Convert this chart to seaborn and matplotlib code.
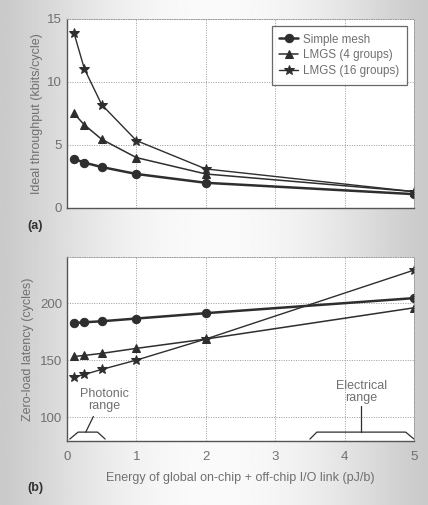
import numpy as np
import pandas as pd
import matplotlib
matplotlib.use("Agg")
import matplotlib.pyplot as plt
import seaborn as sns

# Data
energy = [0.1, 0.25, 0.5, 1, 2, 5]
thr_mesh = [3.9, 3.6, 3.25, 2.7, 2.0, 1.1]
thr_lmgs4 = [7.5, 6.6, 5.45, 4.0, 2.7, 1.3]
thr_lmgs16 = [13.9, 11.05, 8.2, 5.35, 3.1, 1.3]
lat_mesh = [182.6, 183.2, 184.1, 186.5, 191.2, 204.4]
lat_lmgs4 = [153.2, 154.1, 155.9, 160.3, 168.5, 195.9]
lat_lmgs16 = [135.0, 137.4, 141.8, 150.0, 168.5, 229.0]
series = ["Simple mesh", "LMGS (4 groups)", "LMGS (16 groups)"]

sns.set_theme(style="white")
plt.rcParams["font.family"] = ["Liberation Sans", "DejaVu Sans"]
plt.rcParams["font.size"] = 9

txt = "#707070"
ink = "#2e2e2e"

fig = plt.figure(figsize=(4.28, 5.05), dpi=100)

# grey gradient background
bg = fig.add_axes([0, 0, 1, 1], zorder=-10)
xs = np.linspace(-1, 1, 400)
g = 0.79 + 0.19 * (1 - xs ** 2) ** 1.3
bg.imshow(np.tile(g, (50, 1)), cmap="gray", vmin=0, vmax=1, aspect="auto",
          extent=[0, 1, 0, 1])
bg.axis("off")

W, H = 428, 505
def rect(l, t, r, b):
    return [l / W, 1 - b / H, (r - l) / W, (b - t) / H]

ax1 = fig.add_axes(rect(67, 19, 414, 208))
ax2 = fig.add_axes(rect(67, 257, 414, 441))

df_a = pd.DataFrame({"energy": energy * 3,
                     "value": thr_mesh + thr_lmgs4 + thr_lmgs16,
                     "series": np.repeat(series, len(energy))})
df_b = pd.DataFrame({"energy": energy * 3,
                     "value": lat_mesh + lat_lmgs4 + lat_lmgs16,
                     "series": np.repeat(series, len(energy))})

markers = {"Simple mesh": "o", "LMGS (4 groups)": "^", "LMGS (16 groups)": "*"}
msizes = {"Simple mesh": 6, "LMGS (4 groups)": 5.5, "LMGS (16 groups)": 7.5}
lwidths = {"Simple mesh": 1.8, "LMGS (4 groups)": 1.1, "LMGS (16 groups)": 1.0}

for ax, df in [(ax1, df_a), (ax2, df_b)]:
    for s in series:
        d = df[df["series"] == s]
        sns.lineplot(data=d, x="energy", y="value", ax=ax, color=ink,
                     marker=markers[s], markersize=msizes[s],
                     markeredgecolor=ink, linewidth=lwidths[s], label=s,
                     legend=False)
    ax.set_xlim(0, 5)
    ax.set_xticks(range(6))
    ax.grid(True, linestyle=(0, (1, 1.5)), color="#9a9a9a", linewidth=0.7)
    ax.set_axisbelow(True)
    for sp in ["top", "right"]:
        ax.spines[sp].set_linestyle((0, (1, 1.5)))
        ax.spines[sp].set_color("#9a9a9a")
        ax.spines[sp].set_linewidth(0.7)
    for sp in ["left", "bottom"]:
        ax.spines[sp].set_color("#555555")
        ax.spines[sp].set_linewidth(1.0)
    ax.tick_params(colors=txt, labelsize=9.5, length=0)
    ax.tick_params(axis="y", pad=3.5)
    ax.set_xlabel("")

ax1.set_ylim(0, 15)
ax1.set_yticks([0, 5, 10, 15])
ax1.set_xticklabels([])
ax1.set_ylabel("Ideal throughput (kbits/cycle)", color=txt, fontsize=9,
               labelpad=3)

ax2.set_ylim(79, 240.5)
ax2.set_yticks([100, 150, 200])
ax2.set_ylabel("Zero-load latency (cycles)", color=txt, fontsize=9,
               labelpad=4)
ax2.tick_params(axis="x", pad=7)
ax2.set_xlabel("Energy of global on-chip + off-chip I/O link (pJ/b)",
               color=txt, fontsize=9, labelpad=7)

leg = ax1.legend(loc="upper right", bbox_to_anchor=(0.98, 0.963),
                 borderaxespad=0, frameon=True, fancybox=False, fontsize=8.4,
                 handlelength=1.6, handletextpad=0.45, borderpad=0.65,
                 labelspacing=0.32, labelcolor=txt)
leg.get_frame().set_edgecolor("#444444")
leg.get_frame().set_linewidth(0.9)

# bracket annotations
bk = dict(color=ink, linewidth=0.9, clip_on=False)
ax2.plot([0.04, 0.16, 0.44, 0.55], [80.7, 86.8, 86.8, 80.7], **bk)
ax2.plot([0.27, 0.38], [86.8, 100.5], **bk)
ax2.text(0.54, 115, "Photonic\nrange", ha="center", va="center",
         color=txt, fontsize=9, linespacing=1.0)
ax2.plot([3.50, 3.60, 4.88, 5.0], [80.7, 86.8, 86.8, 80.7], **bk)
ax2.plot([4.24, 4.24], [86.8, 110], **bk)
ax2.text(4.24, 122, "Electrical\nrange", ha="center", va="center",
         color=txt, fontsize=9, linespacing=1.0)

fig.text(27 / W, 1 - 226 / H, "(a)", fontsize=9, fontweight="bold",
         color="#333333", va="center", ha="left")
fig.text(27 / W, 1 - 488 / H, "(b)", fontsize=9, fontweight="bold",
         color="#333333", va="center", ha="left")

fig.savefig("out.png", dpi=100)
